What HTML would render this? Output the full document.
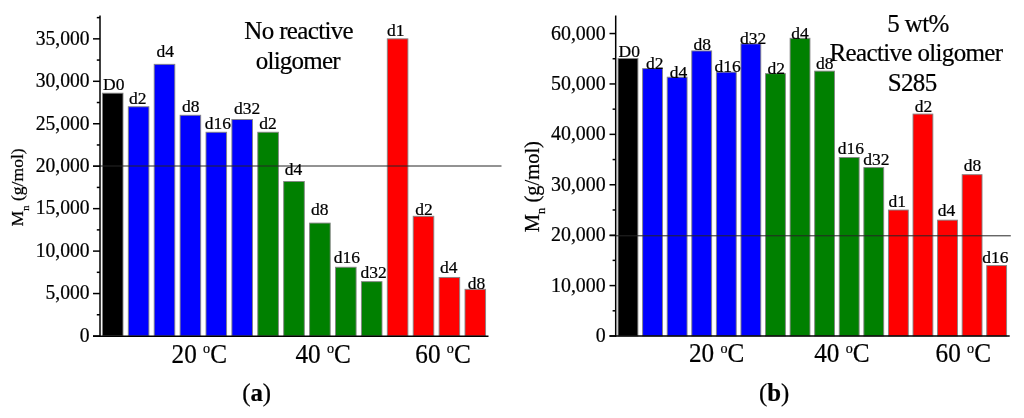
<!DOCTYPE html>
<html><head><meta charset="utf-8"><title>Figure</title>
<style>
html,body{margin:0;padding:0;background:#fff;}
body{width:1024px;height:418px;overflow:hidden;}
svg{display:block;font-family:"Liberation Serif","Times New Roman",serif;fill:#000;}
text{stroke:#000;stroke-width:0.22px;}
</style></head><body>
<svg width="1024" height="418" viewBox="0 0 1024 418">
<rect width="1024" height="418" fill="#fff"/>

<g id="chart-a">
<rect x="102.40" y="93.19" width="20.60" height="242.81" fill="#000" stroke="#858585" stroke-width="0.9"/>
<rect x="128.30" y="106.77" width="20.60" height="229.23" fill="#0000ff" stroke="#858585" stroke-width="0.9"/>
<rect x="154.20" y="64.32" width="20.60" height="271.68" fill="#0000ff" stroke="#858585" stroke-width="0.9"/>
<rect x="180.10" y="115.26" width="20.60" height="220.74" fill="#0000ff" stroke="#858585" stroke-width="0.9"/>
<rect x="206.00" y="132.24" width="20.60" height="203.76" fill="#0000ff" stroke="#858585" stroke-width="0.9"/>
<rect x="231.90" y="119.50" width="20.60" height="216.50" fill="#0000ff" stroke="#858585" stroke-width="0.9"/>
<rect x="257.80" y="132.24" width="20.60" height="203.76" fill="#008000" stroke="#858585" stroke-width="0.9"/>
<rect x="283.70" y="181.48" width="20.60" height="154.52" fill="#008000" stroke="#858585" stroke-width="0.9"/>
<rect x="309.60" y="223.08" width="20.60" height="112.92" fill="#008000" stroke="#858585" stroke-width="0.9"/>
<rect x="335.50" y="267.23" width="20.60" height="68.77" fill="#008000" stroke="#858585" stroke-width="0.9"/>
<rect x="361.40" y="281.66" width="20.60" height="54.34" fill="#008000" stroke="#858585" stroke-width="0.9"/>
<rect x="387.30" y="38.85" width="20.60" height="297.15" fill="#ff0000" stroke="#858585" stroke-width="0.9"/>
<rect x="413.20" y="216.29" width="20.60" height="119.71" fill="#ff0000" stroke="#858585" stroke-width="0.9"/>
<rect x="439.10" y="277.42" width="20.60" height="58.58" fill="#ff0000" stroke="#858585" stroke-width="0.9"/>
<rect x="465.00" y="289.31" width="20.60" height="46.70" fill="#ff0000" stroke="#858585" stroke-width="0.9"/>
<line x1="93" x2="501.5" y1="166.0" y2="166.0" stroke="#262626" stroke-width="1"/>
<line x1="100.0" x2="100.0" y1="15.5" y2="336.7" stroke="#000" stroke-width="1.5"/>
<line x1="93" x2="488.5" y1="336.2" y2="336.2" stroke="#000" stroke-width="1.5"/>
<line x1="93" x2="100.0" y1="336.00" y2="336.00" stroke="#000" stroke-width="1.5"/>
<text transform="translate(89.6,341.80) scale(1,1.07)" font-size="19.6" text-anchor="end">0</text>
<line x1="93" x2="100.0" y1="293.55" y2="293.55" stroke="#000" stroke-width="1.5"/>
<text transform="translate(89.6,299.35) scale(1,1.07)" font-size="19.6" text-anchor="end">5,000</text>
<line x1="93" x2="100.0" y1="251.10" y2="251.10" stroke="#000" stroke-width="1.5"/>
<text transform="translate(89.6,256.90) scale(1,1.07)" font-size="19.6" text-anchor="end">10,000</text>
<line x1="93" x2="100.0" y1="208.65" y2="208.65" stroke="#000" stroke-width="1.5"/>
<text transform="translate(89.6,214.45) scale(1,1.07)" font-size="19.6" text-anchor="end">15,000</text>
<line x1="93" x2="100.0" y1="166.20" y2="166.20" stroke="#000" stroke-width="1.5"/>
<text transform="translate(89.6,172.00) scale(1,1.07)" font-size="19.6" text-anchor="end">20,000</text>
<line x1="93" x2="100.0" y1="123.75" y2="123.75" stroke="#000" stroke-width="1.5"/>
<text transform="translate(89.6,129.55) scale(1,1.07)" font-size="19.6" text-anchor="end">25,000</text>
<line x1="93" x2="100.0" y1="81.30" y2="81.30" stroke="#000" stroke-width="1.5"/>
<text transform="translate(89.6,87.10) scale(1,1.07)" font-size="19.6" text-anchor="end">30,000</text>
<line x1="93" x2="100.0" y1="38.85" y2="38.85" stroke="#000" stroke-width="1.5"/>
<text transform="translate(89.6,44.65) scale(1,1.07)" font-size="19.6" text-anchor="end">35,000</text>
<line x1="96.8" x2="100.0" y1="314.77" y2="314.77" stroke="#000" stroke-width="1.5"/>
<line x1="96.8" x2="100.0" y1="272.32" y2="272.32" stroke="#000" stroke-width="1.5"/>
<line x1="96.8" x2="100.0" y1="229.88" y2="229.88" stroke="#000" stroke-width="1.5"/>
<line x1="96.8" x2="100.0" y1="187.42" y2="187.42" stroke="#000" stroke-width="1.5"/>
<line x1="96.8" x2="100.0" y1="144.97" y2="144.97" stroke="#000" stroke-width="1.5"/>
<line x1="96.8" x2="100.0" y1="102.52" y2="102.52" stroke="#000" stroke-width="1.5"/>
<line x1="96.8" x2="100.0" y1="60.07" y2="60.07" stroke="#000" stroke-width="1.5"/>
<line x1="96.8" x2="100.0" y1="17.62" y2="17.62" stroke="#000" stroke-width="1.5"/>
<text x="113.70" y="90.40" font-size="17.5" text-anchor="middle">D0</text>
<text x="137.80" y="104.20" font-size="17.5" text-anchor="middle">d2</text>
<text x="165.30" y="57.40" font-size="17.5" text-anchor="middle">d4</text>
<text x="190.80" y="111.70" font-size="17.5" text-anchor="middle">d8</text>
<text x="217.90" y="129.20" font-size="17.5" text-anchor="middle">d16</text>
<text x="247.20" y="113.60" font-size="17.5" text-anchor="middle">d32</text>
<text x="268.00" y="129.20" font-size="17.5" text-anchor="middle">d2</text>
<text x="293.40" y="175.40" font-size="17.5" text-anchor="middle">d4</text>
<text x="319.70" y="215.35" font-size="17.5" text-anchor="middle">d8</text>
<text x="346.75" y="262.70" font-size="17.5" text-anchor="middle">d16</text>
<text x="373.50" y="278.20" font-size="17.5" text-anchor="middle">d32</text>
<text x="395.70" y="36.35" font-size="17.5" text-anchor="middle">d1</text>
<text x="424.10" y="214.80" font-size="17.5" text-anchor="middle">d2</text>
<text x="448.70" y="273.10" font-size="17.5" text-anchor="middle">d4</text>
<text x="476.40" y="289.20" font-size="17.5" text-anchor="middle">d8</text>
<text transform="translate(23.2,226.4) rotate(-90)" font-size="17.6">M<tspan font-size="10.5" dy="5.3">n</tspan><tspan dy="-5.3"> (g/mol)</tspan></text>
<text x="298.7" y="39.3" font-size="25" letter-spacing="-0.65" text-anchor="middle">No reactive</text>
<text x="297.8" y="68.5" font-size="25" letter-spacing="-0.78" text-anchor="middle">oligomer</text>
<text transform="translate(199.3,362.5) scale(1,1.05)" font-size="25.2" text-anchor="middle">20 <tspan font-size="14.2" dy="-8.8">o</tspan><tspan dy="8.8">C</tspan></text>
<text transform="translate(323.2,362.5) scale(1,1.05)" font-size="25.2" text-anchor="middle">40 <tspan font-size="14.2" dy="-8.8">o</tspan><tspan dy="8.8">C</tspan></text>
<text transform="translate(443,362.5) scale(1,1.05)" font-size="25.2" text-anchor="middle">60 <tspan font-size="14.2" dy="-8.8">o</tspan><tspan dy="8.8">C</tspan></text>
<text x="256.6" y="400.8" font-size="24.8" text-anchor="middle">(<tspan font-weight="bold">a</tspan>)</text>
</g>
<g id="chart-b">
<rect x="618.05" y="58.50" width="19.85" height="277.50" fill="#000" stroke="#858585" stroke-width="0.9"/>
<rect x="642.63" y="68.60" width="19.85" height="267.40" fill="#0000ff" stroke="#858585" stroke-width="0.9"/>
<rect x="667.21" y="77.18" width="19.85" height="258.82" fill="#0000ff" stroke="#858585" stroke-width="0.9"/>
<rect x="691.79" y="50.92" width="19.85" height="285.08" fill="#0000ff" stroke="#858585" stroke-width="0.9"/>
<rect x="716.37" y="72.13" width="19.85" height="263.87" fill="#0000ff" stroke="#858585" stroke-width="0.9"/>
<rect x="740.95" y="43.85" width="19.85" height="292.15" fill="#0000ff" stroke="#858585" stroke-width="0.9"/>
<rect x="765.53" y="73.65" width="19.85" height="262.35" fill="#008000" stroke="#858585" stroke-width="0.9"/>
<rect x="790.11" y="38.29" width="19.85" height="297.71" fill="#008000" stroke="#858585" stroke-width="0.9"/>
<rect x="814.69" y="71.12" width="19.85" height="264.88" fill="#008000" stroke="#858585" stroke-width="0.9"/>
<rect x="839.27" y="157.49" width="19.85" height="178.51" fill="#008000" stroke="#858585" stroke-width="0.9"/>
<rect x="863.85" y="167.60" width="19.85" height="168.40" fill="#008000" stroke="#858585" stroke-width="0.9"/>
<rect x="888.43" y="210.03" width="19.85" height="125.97" fill="#ff0000" stroke="#858585" stroke-width="0.9"/>
<rect x="913.01" y="114.06" width="19.85" height="221.94" fill="#ff0000" stroke="#858585" stroke-width="0.9"/>
<rect x="937.59" y="220.13" width="19.85" height="115.87" fill="#ff0000" stroke="#858585" stroke-width="0.9"/>
<rect x="962.17" y="174.67" width="19.85" height="161.33" fill="#ff0000" stroke="#858585" stroke-width="0.9"/>
<rect x="986.75" y="265.59" width="19.85" height="70.41" fill="#ff0000" stroke="#858585" stroke-width="0.9"/>
<line x1="609.5" x2="1010.8" y1="235.8" y2="235.8" stroke="#262626" stroke-width="1"/>
<line x1="615.7" x2="615.7" y1="15.5" y2="336.7" stroke="#000" stroke-width="1.5"/>
<line x1="609.5" x2="1009.7" y1="336.0" y2="336.0" stroke="#000" stroke-width="1.5"/>
<line x1="609.5" x2="615.7" y1="336.00" y2="336.00" stroke="#000" stroke-width="1.5"/>
<text transform="translate(605.7,342.10) scale(1,1.07)" font-size="19.9" text-anchor="end">0</text>
<line x1="609.5" x2="615.7" y1="285.59" y2="285.59" stroke="#000" stroke-width="1.5"/>
<text transform="translate(605.7,291.69) scale(1,1.07)" font-size="19.9" text-anchor="end">10,000</text>
<line x1="609.5" x2="615.7" y1="235.18" y2="235.18" stroke="#000" stroke-width="1.5"/>
<text transform="translate(605.7,241.28) scale(1,1.07)" font-size="19.9" text-anchor="end">20,000</text>
<line x1="609.5" x2="615.7" y1="184.77" y2="184.77" stroke="#000" stroke-width="1.5"/>
<text transform="translate(605.7,190.87) scale(1,1.07)" font-size="19.9" text-anchor="end">30,000</text>
<line x1="609.5" x2="615.7" y1="134.36" y2="134.36" stroke="#000" stroke-width="1.5"/>
<text transform="translate(605.7,140.46) scale(1,1.07)" font-size="19.9" text-anchor="end">40,000</text>
<line x1="609.5" x2="615.7" y1="83.95" y2="83.95" stroke="#000" stroke-width="1.5"/>
<text transform="translate(605.7,90.05) scale(1,1.07)" font-size="19.9" text-anchor="end">50,000</text>
<line x1="609.5" x2="615.7" y1="33.54" y2="33.54" stroke="#000" stroke-width="1.5"/>
<text transform="translate(605.7,39.64) scale(1,1.07)" font-size="19.9" text-anchor="end">60,000</text>
<line x1="612.6" x2="615.7" y1="310.80" y2="310.80" stroke="#000" stroke-width="1.5"/>
<line x1="612.6" x2="615.7" y1="260.38" y2="260.38" stroke="#000" stroke-width="1.5"/>
<line x1="612.6" x2="615.7" y1="209.98" y2="209.98" stroke="#000" stroke-width="1.5"/>
<line x1="612.6" x2="615.7" y1="159.57" y2="159.57" stroke="#000" stroke-width="1.5"/>
<line x1="612.6" x2="615.7" y1="109.16" y2="109.16" stroke="#000" stroke-width="1.5"/>
<line x1="612.6" x2="615.7" y1="58.75" y2="58.75" stroke="#000" stroke-width="1.5"/>
<text x="629.30" y="57.40" font-size="17.5" text-anchor="middle">D0</text>
<text x="654.70" y="69.00" font-size="17.5" text-anchor="middle">d2</text>
<text x="678.60" y="77.60" font-size="17.5" text-anchor="middle">d4</text>
<text x="702.30" y="50.40" font-size="17.5" text-anchor="middle">d8</text>
<text x="727.70" y="72.00" font-size="17.5" text-anchor="middle">d16</text>
<text x="753.20" y="44.25" font-size="17.5" text-anchor="middle">d32</text>
<text x="776.20" y="73.90" font-size="17.5" text-anchor="middle">d2</text>
<text x="799.90" y="38.60" font-size="17.5" text-anchor="middle">d4</text>
<text x="824.70" y="69.00" font-size="17.5" text-anchor="middle">d8</text>
<text x="850.75" y="153.90" font-size="17.5" text-anchor="middle">d16</text>
<text x="876.30" y="165.20" font-size="17.5" text-anchor="middle">d32</text>
<text x="897.25" y="206.75" font-size="17.5" text-anchor="middle">d1</text>
<text x="923.40" y="112.00" font-size="17.5" text-anchor="middle">d2</text>
<text x="946.60" y="215.75" font-size="17.5" text-anchor="middle">d4</text>
<text x="972.40" y="171.00" font-size="17.5" text-anchor="middle">d8</text>
<text x="995.40" y="263.00" font-size="17.5" text-anchor="middle">d16</text>
<text transform="translate(538.7,232.2) rotate(-90)" font-size="20.5">M<tspan font-size="12.5" dy="5.8">n</tspan><tspan dy="-5.8"> (g/mol)</tspan></text>
<text x="918" y="31.6" font-size="25" letter-spacing="-0.65" text-anchor="middle">5 wt%</text>
<text x="916.0" y="61.1" font-size="25" letter-spacing="-0.65" text-anchor="middle">Reactive oligomer</text>
<text x="912.1" y="91.4" font-size="25" letter-spacing="-0.65" text-anchor="middle">S285</text>
<text transform="translate(716.7,362.1) scale(1,1.05)" font-size="25.2" text-anchor="middle">20 <tspan font-size="14.2" dy="-8.8">o</tspan><tspan dy="8.8">C</tspan></text>
<text transform="translate(841.9,362.1) scale(1,1.05)" font-size="25.2" text-anchor="middle">40 <tspan font-size="14.2" dy="-8.8">o</tspan><tspan dy="8.8">C</tspan></text>
<text transform="translate(963.3,362.1) scale(1,1.05)" font-size="25.2" text-anchor="middle">60 <tspan font-size="14.2" dy="-8.8">o</tspan><tspan dy="8.8">C</tspan></text>
<text x="774.2" y="400.8" font-size="24.8" text-anchor="middle">(<tspan font-weight="bold">b</tspan>)</text>
</g>
</svg></body></html>
